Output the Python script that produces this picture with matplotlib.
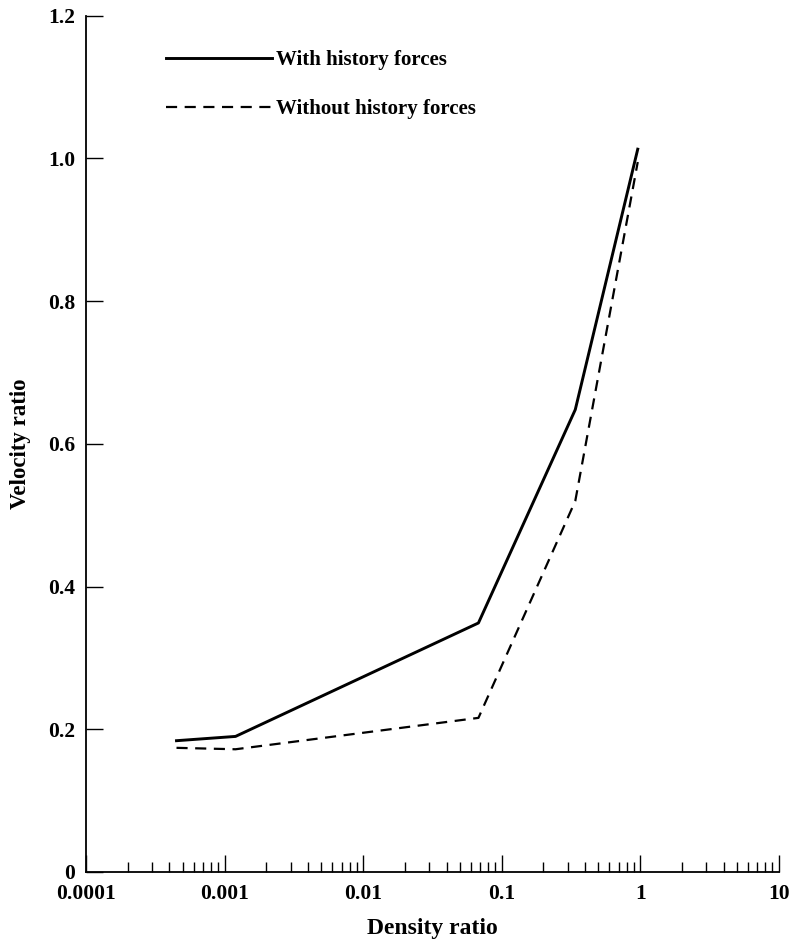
import matplotlib
matplotlib.use("Agg")
import matplotlib.pyplot as plt
import matplotlib.ticker as mticker
import numpy as np

# values
density = [0.00045, 0.0012, 0.068, 0.34, 0.96]
with_history = [0.184, 0.190, 0.349, 0.648, 1.013]
without_history = [0.174, 0.172, 0.216, 0.52, 0.995]

xticks = [0.0001, 0.001, 0.01, 0.1, 1, 10]
xticklabels = ['0.0001', '0.001', '0.01', '0.1', '1', '10']
yticks = [0, 0.2, 0.4, 0.6, 0.8, 1.0, 1.2]
yticklabels = ['0', '0.2', '0.4', '0.6', '0.8', '1.0', '1.2']


def main():
    plt.rcParams['font.family'] = ['Liberation Serif', 'DejaVu Serif']
    plt.rcParams['font.weight'] = 'bold'

    fig = plt.figure(figsize=(7.89, 9.43), dpi=100)
    ax = fig.add_axes([0.109, 0.0753, 0.878, 0.908])

    ax.plot(density, with_history, color='black', lw=2.1,
            label='With history forces')
    ax.plot(density, without_history, color='black', lw=1.6,
            dashes=(5, 3.4), label='Without history forces')

    ax.set_xscale('log')
    ax.set_xlim(1e-4, 10)
    ax.set_ylim(0, 1.2)
    ax.set_xticks(xticks)
    ax.set_xticklabels(xticklabels)
    ax.xaxis.set_minor_locator(mticker.LogLocator(base=10, subs=np.arange(2, 10)))
    ax.xaxis.set_minor_formatter(mticker.NullFormatter())
    ax.set_yticks(yticks)
    ax.set_yticklabels(yticklabels)

    for s in ['top', 'right']:
        ax.spines[s].set_visible(False)
    for s in ['left', 'bottom']:
        ax.spines[s].set_linewidth(1.3)

    ax.tick_params(axis='both', which='major', direction='in', length=12,
                   width=1.0, labelsize=15.5)
    ax.tick_params(axis='x', which='major', pad=9)
    ax.tick_params(axis='y', which='major', pad=8)
    ax.tick_params(axis='x', which='minor', direction='in', length=7, width=1.0)

    ax.set_xlabel('Density ratio', fontsize=17, fontweight='bold', labelpad=10)
    ax.set_ylabel('Velocity ratio', fontsize=16.5, fontweight='bold', labelpad=12)

    ax.legend(loc='upper left', bbox_to_anchor=(0.1154, 0.960), frameon=False,
              handlelength=5.1, handletextpad=0.2, labelspacing=1.4,
              borderpad=0, borderaxespad=0,
              prop={'size': 15, 'weight': 'bold'})

    fig.savefig('out.png', dpi=100)


if __name__ == '__main__':
    main()
